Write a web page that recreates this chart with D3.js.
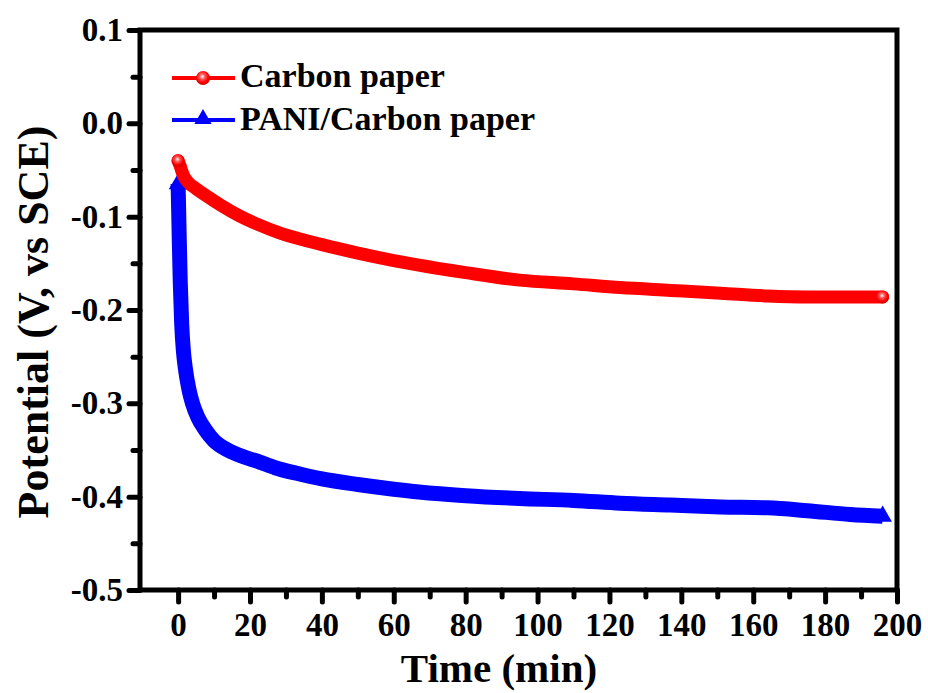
<!DOCTYPE html>
<html>
<head>
<meta charset="utf-8">
<script src="https://cdn.jsdelivr.net/npm/d3@7"></script>
<style>
  body { margin: 0; background: #fff; }
  text { font-family: "Liberation Serif", "Times New Roman", serif; font-weight: bold; }
</style>
</head>
<body>
<svg width="928" height="693"></svg>
<script>
// series: time (min) and potential (V vs SCE)
var carbonTime = [0, 0.5, 1.5, 3, 5, 8, 12, 17, 22, 28, 35, 40, 50, 60, 67, 80, 95, 110, 123, 137, 151, 164, 175, 187, 196];
var carbonPot = [-0.040, -0.045, -0.056, -0.064, -0.070, -0.078, -0.088, -0.099, -0.108, -0.117, -0.125, -0.130, -0.139, -0.147, -0.152, -0.160, -0.168, -0.172, -0.176, -0.179, -0.182, -0.185, -0.186, -0.186, -0.186];

var paniTime = [0, 0.3, 0.6, 1, 1.5, 2, 3, 4, 5.5, 7.5, 10, 13.8, 18, 22, 27, 33, 40, 50, 60, 67, 80, 95, 110, 123, 137, 151, 164, 175, 187, 196];
var paniPot = [-0.065, -0.12, -0.17, -0.215, -0.245, -0.262, -0.285, -0.300, -0.315, -0.328, -0.340, -0.350, -0.357, -0.362, -0.369, -0.375, -0.381, -0.387, -0.392, -0.395, -0.399, -0.402, -0.404, -0.407, -0.409, -0.411, -0.412, -0.415, -0.419, -0.421];

var seriesNames = ["Carbon paper", "PANI/Carbon paper"];
var xMajor = [0, 20, 40, 60, 80, 100, 120, 140, 160, 180, 200];
var xMinor = [10, 30, 50, 70, 90, 110, 130, 150, 170, 190];
var yMajor = [0.1, 0.0, -0.1, -0.2, -0.3, -0.4, -0.5];
var yMinor = [0.05, -0.05, -0.15, -0.25, -0.35, -0.45];

var svg = d3.select("svg");

var x = d3.scaleLinear().domain([-10.6, 200]).range([140, 897]);
var y = d3.scaleLinear().domain([-0.5, 0.1]).range([590, 30]);

// gradient for the ball markers
var defs = svg.append("defs");
var grad = defs.append("radialGradient").attr("id", "ball")
  .attr("cx", "45%").attr("cy", "40%").attr("r", "60%");
grad.append("stop").attr("offset", "0%").attr("stop-color", "#fff");
grad.append("stop").attr("offset", "30%").attr("stop-color", "#ff6060");
grad.append("stop").attr("offset", "70%").attr("stop-color", "#ff0000");
grad.append("stop").attr("offset", "100%").attr("stop-color", "#d00000");

var line = d3.line()
  .x(d => x(d[0]))
  .y(d => y(d[1]))
  .curve(d3.curveMonotoneX);

var carbon = carbonTime.map((t, i) => [t, carbonPot[i]]);
var pani = paniTime.map((t, i) => [t, paniPot[i]]);

// blue curve
svg.append("path")
  .attr("d", line(pani))
  .attr("fill", "none")
  .attr("stroke", "#0000ff")
  .attr("stroke-width", 15)
  .attr("stroke-linejoin", "round");

var tri = d3.symbol().type(d3.symbolTriangle).size(150);
[pani[0], pani[pani.length - 1]].forEach(function(d) {
  svg.append("path")
    .attr("d", tri())
    .attr("transform", "translate(" + x(d[0]) + "," + y(d[1]) + ")")
    .attr("fill", "#0000ff");
});

// red curve
svg.append("path")
  .attr("d", line(carbon))
  .attr("fill", "none")
  .attr("stroke", "#ff0000")
  .attr("stroke-width", 13)
  .attr("stroke-linejoin", "round")
  .attr("stroke-linecap", "round");

[carbon[0], carbon[carbon.length - 1]].forEach(function(d) {
  svg.append("circle")
    .attr("cx", x(d[0])).attr("cy", y(d[1])).attr("r", 6.5)
    .attr("fill", "url(#ball)");
});

// axes
function styleAxis(g) {
  g.select(".domain").remove();
  g.selectAll("line").attr("stroke", "#000").attr("stroke-width", 5).attr("stroke-linecap", "round");
  g.selectAll("text").attr("fill", "#000").style("font-size", "33px");
}

svg.append("g")
  .attr("transform", "translate(0,590)")
  .call(d3.axisBottom(x).tickValues(xMinor).tickSize(7).tickFormat(""))
  .call(styleAxis);
svg.append("g")
  .attr("transform", "translate(0,590)")
  .call(d3.axisBottom(x).tickValues(xMajor).tickSize(12).tickPadding(11).tickFormat(d3.format("d")))
  .call(styleAxis);

svg.append("g")
  .attr("transform", "translate(140,0)")
  .call(d3.axisLeft(y).tickValues(yMinor).tickSize(7).tickFormat(""))
  .call(styleAxis);
svg.append("g")
  .attr("transform", "translate(140,0)")
  .call(d3.axisLeft(y).tickValues(yMajor).tickSize(11).tickPadding(6)
    .tickFormat(d => d3.format(".1f")(d).replace("\u2212", "-")))
  .call(styleAxis);

// frame
svg.append("rect")
  .attr("x", 140).attr("y", 30)
  .attr("width", 897 - 140).attr("height", 560)
  .attr("fill", "none")
  .attr("stroke", "#000")
  .attr("stroke-width", 5);

// axis titles
svg.append("text")
  .attr("x", 499).attr("y", 682)
  .attr("text-anchor", "middle")
  .style("font-size", "41px")
  .text("Time (min)");

svg.append("text")
  .attr("transform", "translate(48,322) rotate(-90)")
  .attr("text-anchor", "middle")
  .style("font-size", "44px")
  .text("Potential (V, vs SCE)");

// legend
var legend = svg.append("g");
legend.append("line").attr("x1", 172).attr("x2", 235).attr("y1", 78).attr("y2", 78)
  .attr("stroke", "#ff0000").attr("stroke-width", 4);
legend.append("circle").attr("cx", 203).attr("cy", 78).attr("r", 7).attr("fill", "url(#ball)");
legend.append("text").attr("x", 240).attr("y", 87).style("font-size", "34px").text(seriesNames[0]);

legend.append("line").attr("x1", 172).attr("x2", 235).attr("y1", 120).attr("y2", 120)
  .attr("stroke", "#0000ff").attr("stroke-width", 4);
legend.append("path").attr("d", d3.symbol().type(d3.symbolTriangle).size(130)())
  .attr("transform", "translate(203,119)").attr("fill", "#0000ff");
legend.append("text").attr("x", 240).attr("y", 130).style("font-size", "34px").text(seriesNames[1]);
</script>
</body>
</html>
